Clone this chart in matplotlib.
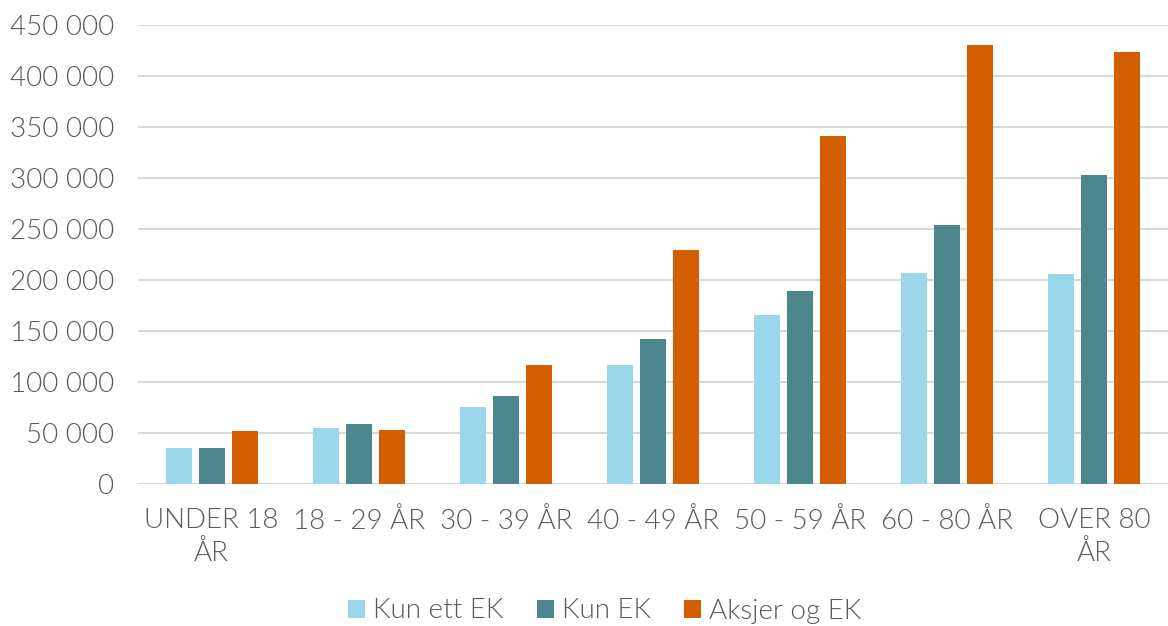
import numpy as np
import matplotlib.pyplot as plt
from matplotlib.ticker import FuncFormatter

categories = ["UNDER 18\nÅR", "18 - 29 ÅR", "30 - 39 ÅR", "40 - 49 ÅR",
              "50 - 59 ÅR", "60 - 80 ÅR", "OVER 80\nÅR"]
kun_ett_ek = [35000, 55000, 75500, 117000, 166000, 207000, 206000]
kun_ek = [35000, 59000, 86500, 142000, 189000, 253500, 302500]
aksjer_og_ek = [51500, 52500, 117000, 229500, 341500, 430000, 423500]

series = [
    ("Kun ett EK", kun_ett_ek, "#9BD6EA"),
    ("Kun EK", kun_ek, "#4E868D"),
    ("Aksjer og EK", aksjer_og_ek, "#D45F00"),
]

plt.rcParams['font.family'] = ['Lato', 'DejaVu Sans']
plt.rcParams['font.weight'] = 300
text_color = "#595959"

fig = plt.figure(figsize=(11.68, 6.26), dpi=100)
ax = fig.add_axes([138 / 1168, 1 - 484 / 626, 1030 / 1168, 459 / 626])

x = np.arange(len(categories))
width = 0.177
step = 0.224
for i, (name, vals, color) in enumerate(series):
    ax.bar(x + (i - 1) * step, vals, width, color=color, label=name, zorder=3)

ax.set_xlim(-0.5, len(categories) - 0.5)
ax.set_ylim(0, 450000)
ax.set_yticks(np.arange(0, 450001, 50000))
ax.yaxis.set_major_formatter(FuncFormatter(lambda v, p: f"{int(v):,}".replace(",", " ")))
ax.grid(axis='y', color="#D9D9D9", linewidth=1.5, zorder=0)
for s in ax.spines.values():
    s.set_visible(False)
ax.tick_params(axis='both', length=0, labelsize=20, colors=text_color)
ax.tick_params(axis='y', pad=17)
ax.tick_params(axis='x', pad=17)
ax.set_xticks(x)
ax.set_xticklabels(categories, linespacing=1.35)

leg = fig.legend(loc='center', bbox_to_anchor=(605 / 1168, 1 - 611 / 626), ncol=3, frameon=False,
                 fontsize=20, handlelength=0.6, handleheight=0.6, handletextpad=0.3,
                 columnspacing=1.2, borderaxespad=0, borderpad=0)
for t in leg.get_texts():
    t.set_color(text_color)

fig.savefig("out.png", dpi=100)
